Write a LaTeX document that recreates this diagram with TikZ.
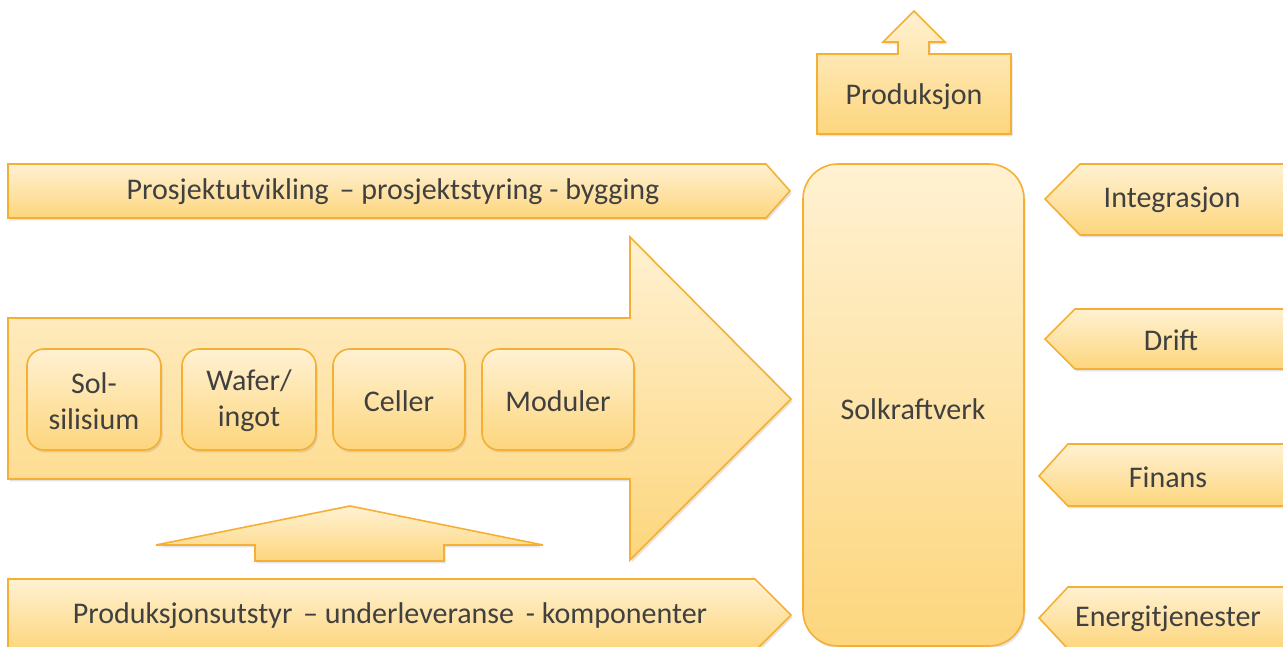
\documentclass[tikz,border=0pt]{standalone}
\usepackage{fontspec}
\setmainfont{Carlito}
\usetikzlibrary{shadows}
\definecolor{edge}{RGB}{245,176,52}
\definecolor{ftop}{RGB}{255,241,210}
\definecolor{fbot}{RGB}{253,214,125}
\definecolor{txt}{RGB}{64,64,64}
\tikzset{
  shp/.style={draw=edge, line width=1.6pt, top color=ftop, bottom color=fbot, line join=miter,
    drop shadow={opacity=0.22, shadow xshift=1.5pt, shadow yshift=-2.5pt}},
  lbl/.style={text=txt, font=\fontsize{30}{36}\selectfont, align=center, inner sep=0pt},
}
\begin{document}
\begin{tikzpicture}[x=1pt,y=1pt]
\useasboundingbox (0,0) rectangle (1283,647);
\clip (0,0) rectangle (1283,647);

% top banner
\path[shp] (8,483) -- (766,483) -- (790,456) -- (766,429) -- (8,429) -- cycle;
\node[lbl] (proj) at (393,455) {Prosjektutvikling\hspace{4pt} – prosjektstyring - bygging};

% big arrow
\path[shp] (8,329) -- (630,329) -- (630,410) -- (791,248) -- (630,87) -- (630,168) -- (8,168) -- cycle;

% inner boxes
\path[shp, rounded corners=17pt] (27,197) rectangle (161,298);
\path[shp, rounded corners=17pt] (182,197) rectangle (316,298);
\path[shp, rounded corners=17pt] (333,197) rectangle (465,298);
\path[shp, rounded corners=17pt] (482,197) rectangle (634,298);
\node[lbl] (sol) at (94,246) {Sol-\\silisium};
\node[lbl] (wafer) at (249,246) {Wafer/\\ingot};
\node[lbl] (celler) at (399,246) {Celler};
\node[lbl] (moduler) at (558,246) {Moduler};

% small up arrow
\path[shp] (350,141) -- (543,102) -- (444,102) -- (444,86) -- (255,86) -- (255,102) -- (156,102) -- cycle;

% bottom banner
\path[shp] (8,68) -- (755,68) -- (791,32) -- (755,-4) -- (8,-4) -- cycle;
\node[lbl] (utstyr) at (390,31) {Produksjonsutstyr\hspace{4pt} – underleveranse\hspace{5pt} - komponenter};

% Produksjon box with up arrow
\path[shp] (817,513) -- (1011,513) -- (1011,593) -- (929,593) -- (929,605) -- (945,605) -- (914,636)
  -- (883,605) -- (898,605) -- (898,593) -- (817,593) -- cycle;
\node[lbl] (prod) at (914,550) {Produksjon};

% Solkraftverk
\path[shp, rounded corners=35pt] (803,1) rectangle (1024,483);
\node[lbl] (solk) at (913,238) {Solkraftverk};

% right chevrons
\path[shp] (1290,483) -- (1080,483) -- (1045,448) -- (1080,412) -- (1290,412) -- cycle;
\node[lbl] (integ) at (1172,447) {Integrasjon};
\path[shp] (1290,338) -- (1075,338) -- (1045,308) -- (1075,278) -- (1290,278) -- cycle;
\node[lbl] (drift) at (1171,307) {Drift};
\path[shp] (1290,203) -- (1068,203) -- (1039,171) -- (1068,141) -- (1290,141) -- cycle;
\node[lbl] (finans) at (1168,170) {Finans};
\path[shp] (1290,60) -- (1068,60) -- (1039,29) -- (1068,-2) -- (1290,-2) -- cycle;
\node[lbl] (energi) at (1168,28) {Energitjenester};
\end{tikzpicture}
\end{document}
